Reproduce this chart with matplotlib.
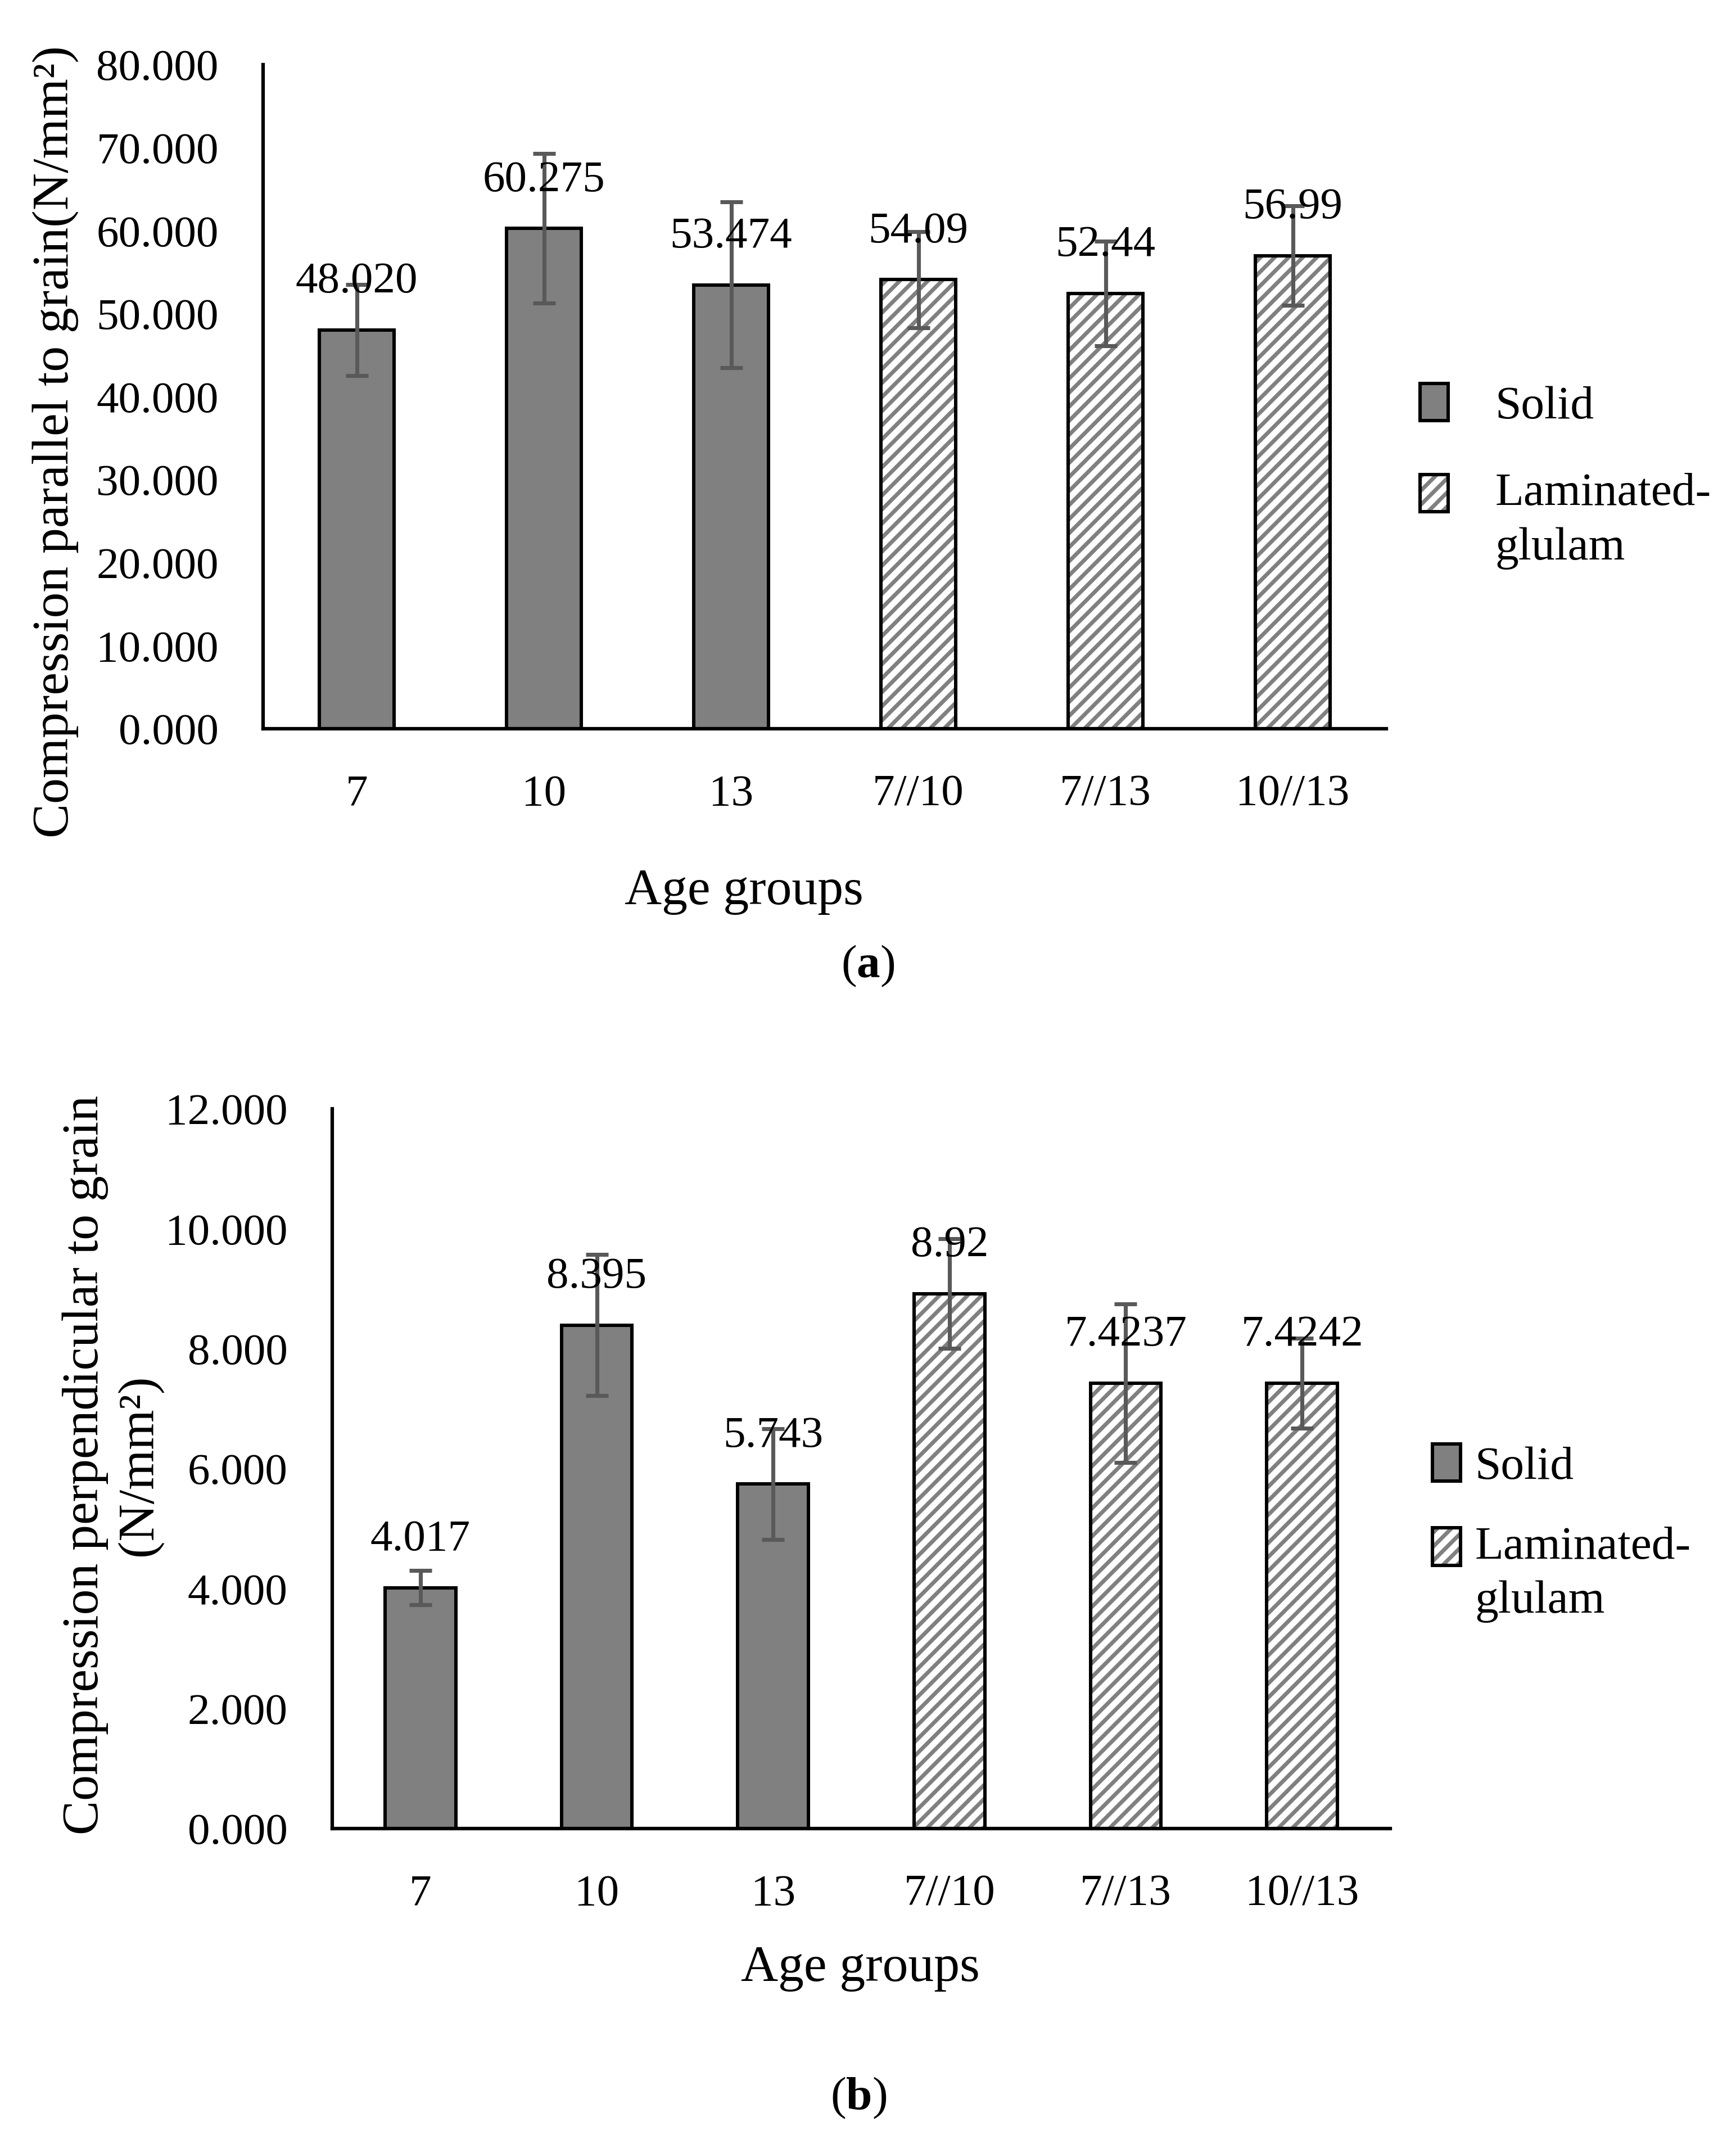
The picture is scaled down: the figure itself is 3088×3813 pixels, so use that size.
import matplotlib
matplotlib.use('Agg')
import matplotlib.pyplot as plt
from matplotlib.patches import Patch
from matplotlib.legend_handler import HandlerTuple

plt.rcParams['font.family'] = ['Liberation Serif', 'DejaVu Serif']
plt.rcParams['mathtext.fontset'] = 'custom'
plt.rcParams['mathtext.rm'] = 'Liberation Serif'
plt.rcParams['mathtext.bf'] = 'Liberation Serif:bold'
plt.rcParams['hatch.linewidth'] = 1.7

# data
groups = ['7', '10', '13', '7//10', '7//13', '10//13']
is_laminated = [False, False, False, True, True, True]

parallel = [48.020, 60.275, 53.474, 54.09, 52.44, 56.99]
parallel_err = [5.5, 9.0, 10.0, 5.8, 6.3, 6.0]
parallel_labels = ['48.020', '60.275', '53.474', '54.09', '52.44', '56.99']

perpendicular = [4.017, 8.395, 5.743, 8.92, 7.4237, 7.4242]
perpendicular_err = [0.29, 1.18, 0.92, 0.91, 1.32, 0.75]
perpendicular_labels = ['4.017', '8.395', '5.743', '8.92', '7.4237', '7.4242']

GRAY = '#808080'
ERR = '#595959'
EDGE_LW = 1.45
W, H = 3088, 3813
DPI = 300


class FirstLineTuple(HandlerTuple):
    '''overlay the tuple and lift it to the first line of a two line label'''
    def __init__(self, shift, **kw):
        super().__init__(**kw)
        self.shift = shift

    def create_artists(self, legend, orig_handle, xdescent, ydescent,
                       width, height, fontsize, trans):
        return super().create_artists(legend, orig_handle, xdescent,
                                      ydescent - self.shift, width, height,
                                      fontsize, trans)


def draw_panel(ax, values, errs, labels, ymax, ystep):
    x = list(range(len(groups)))
    for i in x:
        if is_laminated[i]:
            ax.bar(i, values[i], width=0.4, facecolor='white', edgecolor=GRAY,
                   hatch='////', linewidth=0, zorder=2)
        else:
            ax.bar(i, values[i], width=0.4, facecolor=GRAY, linewidth=0, zorder=2)
        ax.bar(i, values[i], width=0.4, fill=False, edgecolor='black',
               linewidth=EDGE_LW, zorder=3)
    ax.errorbar(x, values, yerr=errs, fmt='none', ecolor=ERR, elinewidth=1.7,
                capsize=4.7, capthick=1.7, zorder=4)
    for i in x:
        ax.annotate(labels[i], (i, values[i]), xytext=(0, 20.5),
                    textcoords='offset points', ha='center', va='center',
                    fontsize=19, zorder=5)

    ax.set_xlim(-0.5, len(groups) - 0.5)
    ax.set_ylim(0, ymax)
    ax.set_xticks(x)
    ax.set_xticklabels(groups)
    ticks = [ystep * k for k in range(int(round(ymax / ystep)) + 1)]
    ax.set_yticks(ticks)
    ax.set_yticklabels(['%.3f' % t for t in ticks])
    ax.tick_params(axis='both', length=0, labelsize=19)
    ax.tick_params(axis='y', pad=19)
    ax.tick_params(axis='x', pad=19.5)
    for s in ['top', 'right']:
        ax.spines[s].set_visible(False)
    for s in ['left', 'bottom']:
        ax.spines[s].set_linewidth(1.5)

    solid_h = Patch(facecolor=GRAY, edgecolor='black', linewidth=EDGE_LW)
    lam_h = (Patch(facecolor='white', edgecolor=GRAY, hatch='////', linewidth=0),
             Patch(fill=False, edgecolor='black', linewidth=EDGE_LW))
    return [solid_h, lam_h]


def add_legend(ax, handles, anchor, textpad, spacing):
    leg = ax.legend(handles, ['Solid', 'Laminated-\nglulam'], loc='center left',
                    bbox_to_anchor=anchor, frameon=False, fontsize=20,
                    handlelength=0.6, handleheight=0.85, handletextpad=textpad,
                    labelspacing=spacing, borderpad=0, borderaxespad=0,
                    handler_map={tuple: FirstLineTuple(12, ndivide=1, pad=0)})
    for t in leg.get_texts():
        t.set_linespacing(1.36)
    return leg


fig = plt.figure(figsize=(W / DPI, H / DPI), dpi=DPI)

# (a) compression parallel to grain
ax1 = fig.add_axes([468 / W, 1 - 1296 / H, 1998 / W, 1181 / H])
handles = draw_panel(ax1, parallel, parallel_err, parallel_labels, 80, 10)
ax1.set_ylabel('Compression parallel to grain(N/mm\u00b2)', fontsize=22)
ax1.yaxis.label.set_va('center')
ax1.yaxis.set_label_coords(-0.185, 0.432)
ax1.set_xlabel('Age groups', fontsize=22)
ax1.xaxis.label.set_va('center')
ax1.xaxis.set_label_coords(0.428, -0.245)
add_legend(ax1, handles, (1.03, 0.38), 1.0, 0.95)

# (b) compression perpendicular to grain
ax2 = fig.add_axes([591 / W, 1 - 3252 / H, 1882 / W, 1280 / H])
handles = draw_panel(ax2, perpendicular, perpendicular_err, perpendicular_labels, 12, 2)
ax2.set_ylabel('Compression perpendicular to grain\n(N/mm\u00b2)', fontsize=22)
ax2.yaxis.label.set_va('center')
ax2.yaxis.set_label_coords(-0.208, 0.505)
ax2.set_xlabel('Age groups', fontsize=22)
ax2.xaxis.label.set_va('center')
ax2.xaxis.set_label_coords(0.499, -0.194)
add_legend(ax2, handles, (1.04, 0.41), 0.3, 0.8)

fig.text(1544 / W, 1 - 1718 / H, r'($\mathbf{a}$)', ha='center', va='center', fontsize=20)
fig.text(1527 / W, 1 - 3731 / H, r'($\mathbf{b}$)', ha='center', va='center', fontsize=20)

fig.savefig('out.png', dpi=DPI, facecolor='white')
